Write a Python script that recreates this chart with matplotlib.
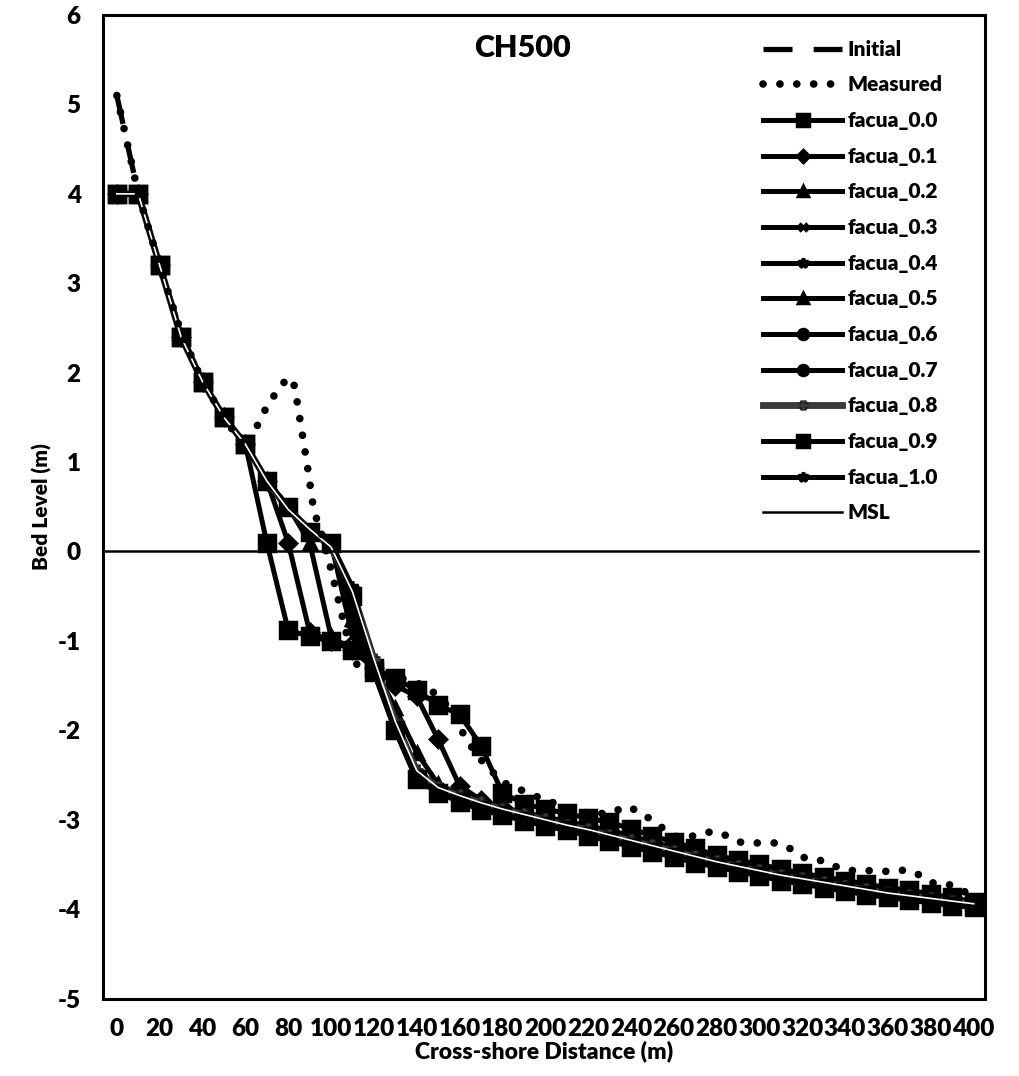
import matplotlib
matplotlib.use('Agg')
import matplotlib.pyplot as plt
import matplotlib.patheffects as pe

plt.rcParams['font.family'] = ['Lato', 'DejaVu Sans']
plt.rcParams['font.weight'] = 'heavy'
plt.rcParams['axes.unicode_minus'] = False

# Cross-shore distance (m), every 10 m
dist = [0, 10, 20, 30, 40, 50, 60, 70, 80, 90, 100, 110, 120, 130, 140, 150, 160, 170, 180, 190,
        200, 210, 220, 230, 240, 250, 260, 270, 280, 290, 300, 310, 320, 330, 340, 350, 360, 370, 380, 390, 400]

initial = [5.10, 4.00, 3.20, 2.45, 1.90, 1.50, 1.20, 0.80, 0.47, 0.25, 0.05, -0.55, -1.25, -1.95, -2.50, -2.66, -2.75, -2.83, -2.90, -2.96,
           -3.02, -3.08, -3.13, -3.19, -3.25, -3.31, -3.37, -3.43, -3.48, -3.53, -3.58, -3.63, -3.67, -3.71, -3.75, -3.79, -3.83, -3.86, -3.89, -3.92, -3.95]

meas_x = [0, 10, 20, 30, 40, 50, 60, 65, 70, 75, 80, 83, 86, 89, 92, 95, 100, 105, 110, 115, 125, 137, 145, 152, 158, 163, 170, 180,
          190, 200, 210, 220, 230, 238, 245, 252, 262, 270, 278, 285, 292, 300, 308, 315, 322, 330, 338, 347, 355, 362, 368, 375, 382, 390, 397, 402]
meas_y = [5.10, 4.00, 3.20, 2.45, 1.90, 1.50, 1.15, 1.38, 1.62, 1.80, 1.95, 1.85, 1.40, 0.95, 0.45, 0.25, -0.20, -0.70, -1.20, -1.35, -1.38, -1.44, -1.52, -1.66, -1.85, -2.10, -2.33, -2.58,
          -2.68, -2.78, -2.86, -2.93, -2.93, -2.85, -2.92, -3.05, -3.20, -3.18, -3.13, -3.18, -3.26, -3.26, -3.26, -3.33, -3.44, -3.46, -3.55, -3.58, -3.56, -3.59, -3.56, -3.62, -3.72, -3.73, -3.82, -3.88]

facua_0_0 = [4.00, 4.00, 3.20, 2.40, 1.90, 1.50, 1.20, 0.10, -0.88, -0.95, -1.00, -1.10, -1.30, -1.42, -1.55, -1.72, -1.82, -2.17, -2.70, -2.82,
             -2.88, -2.93, -2.98, -3.03, -3.10, -3.18, -3.25, -3.32, -3.40, -3.45, -3.50, -3.55, -3.60, -3.64, -3.68, -3.72, -3.76, -3.79, -3.83, -3.87, -3.92]
facua_0_1 = [4.00, 4.00, 3.20, 2.40, 1.90, 1.50, 1.20, 0.79, 0.10, -0.90, -1.00, -1.10, -1.30, -1.50, -1.62, -2.10, -2.62, -2.78, -2.86, -2.92,
             -2.97, -3.02, -3.07, -3.12, -3.18, -3.25, -3.31, -3.37, -3.44, -3.49, -3.54, -3.59, -3.63, -3.68, -3.72, -3.76, -3.80, -3.83, -3.87, -3.90, -3.94]
facua_0_2 = [4.00, 4.00, 3.20, 2.40, 1.90, 1.50, 1.20, 0.79, 0.50, 0.10, -0.95, -1.10, -1.30, -1.75, -2.25, -2.60, -2.72, -2.82, -2.90, -2.96,
             -3.02, -3.07, -3.12, -3.18, -3.24, -3.30, -3.36, -3.42, -3.48, -3.53, -3.58, -3.63, -3.67, -3.71, -3.75, -3.79, -3.83, -3.86, -3.89, -3.93, -3.96]
facua_0_3 = [4.00, 4.00, 3.20, 2.40, 1.90, 1.50, 1.20, 0.79, 0.50, 0.22, 0.10, -0.95, -1.30, -1.95, -2.50, -2.66, -2.76, -2.85, -2.92, -2.98,
             -3.04, -3.09, -3.15, -3.21, -3.27, -3.33, -3.39, -3.45, -3.50, -3.55, -3.60, -3.65, -3.69, -3.73, -3.77, -3.81, -3.84, -3.87, -3.90, -3.93, -3.96]
facua_0_4 = [4.00, 4.00, 3.20, 2.40, 1.90, 1.50, 1.20, 0.79, 0.50, 0.22, 0.10, -0.85, -1.30, -1.95, -2.50, -2.67, -2.77, -2.86, -2.93, -2.99,
             -3.05, -3.10, -3.16, -3.22, -3.28, -3.34, -3.40, -3.46, -3.51, -3.56, -3.61, -3.66, -3.70, -3.74, -3.78, -3.82, -3.85, -3.88, -3.91, -3.94, -3.97]
facua_0_5 = [4.00, 4.00, 3.20, 2.40, 1.90, 1.50, 1.20, 0.79, 0.50, 0.22, 0.10, -0.75, -1.32, -1.97, -2.52, -2.68, -2.78, -2.86, -2.93, -2.99,
             -3.05, -3.10, -3.16, -3.22, -3.28, -3.34, -3.40, -3.46, -3.51, -3.56, -3.61, -3.66, -3.70, -3.74, -3.78, -3.82, -3.85, -3.88, -3.91, -3.94, -3.97]
facua_0_6 = [4.00, 4.00, 3.20, 2.40, 1.90, 1.50, 1.20, 0.79, 0.50, 0.22, 0.10, -0.65, -1.33, -1.98, -2.53, -2.68, -2.78, -2.86, -2.93, -2.99,
             -3.05, -3.10, -3.16, -3.22, -3.28, -3.34, -3.40, -3.46, -3.51, -3.56, -3.61, -3.66, -3.70, -3.74, -3.78, -3.82, -3.85, -3.88, -3.91, -3.94, -3.97]
facua_0_7 = [4.00, 4.00, 3.20, 2.40, 1.90, 1.50, 1.20, 0.79, 0.50, 0.22, 0.10, -0.58, -1.34, -1.99, -2.54, -2.68, -2.78, -2.86, -2.93, -2.99,
             -3.05, -3.10, -3.16, -3.22, -3.28, -3.34, -3.40, -3.46, -3.51, -3.56, -3.61, -3.66, -3.70, -3.74, -3.78, -3.82, -3.85, -3.88, -3.91, -3.94, -3.97]
facua_0_8 = [4.00, 4.00, 3.20, 2.40, 1.90, 1.50, 1.20, 0.79, 0.47, 0.25, 0.05, -0.45, -1.20, -1.90, -2.45, -2.64, -2.73, -2.81, -2.88, -2.94,
             -3.00, -3.06, -3.11, -3.17, -3.23, -3.29, -3.35, -3.41, -3.47, -3.52, -3.57, -3.62, -3.66, -3.70, -3.74, -3.78, -3.82, -3.85, -3.88, -3.91, -3.94]
facua_0_9 = [4.00, 4.00, 3.20, 2.40, 1.90, 1.50, 1.20, 0.79, 0.50, 0.22, 0.10, -0.50, -1.35, -2.00, -2.55, -2.70, -2.80, -2.89, -2.95, -3.01,
             -3.07, -3.12, -3.18, -3.24, -3.30, -3.36, -3.42, -3.48, -3.53, -3.58, -3.63, -3.68, -3.72, -3.76, -3.80, -3.84, -3.87, -3.90, -3.93, -3.96, -3.98]
facua_1_0 = [4.00, 4.00, 3.20, 2.40, 1.90, 1.50, 1.20, 0.79, 0.50, 0.22, 0.10, -0.40, -1.35, -2.00, -2.55, -2.69, -2.79, -2.88, -2.94, -3.00,
             -3.06, -3.11, -3.17, -3.23, -3.29, -3.35, -3.41, -3.47, -3.52, -3.57, -3.62, -3.67, -3.71, -3.75, -3.79, -3.83, -3.86, -3.89, -3.92, -3.95, -3.98]

msl_x = [-6.5, 402]
msl_y = [0, 0]

facua_labels = ['facua_0.0', 'facua_0.1', 'facua_0.2', 'facua_0.3', 'facua_0.4', 'facua_0.5',
                'facua_0.6', 'facua_0.7', 'facua_0.8', 'facua_0.9', 'facua_1.0']
facua_series = [facua_0_0, facua_0_1, facua_0_2, facua_0_3, facua_0_4, facua_0_5,
                facua_0_6, facua_0_7, facua_0_8, facua_0_9, facua_1_0]
facua_markers = ['s', 'D', '^', 'x', '*', '^', 'o', 'o', '+', 's', '*']
facua_msize = [11, 8, 9, 8, 9, 9, 9, 9, 9, 11, 9]

fig = plt.figure(figsize=(10.19, 10.76), dpi=100)
ax = fig.add_axes([0.101, 0.072, 0.866, 0.914])

ax.plot(dist, initial, color='black', lw=3.8, linestyle=(0, (5.5, 4)), label='Initial', zorder=2)
ax.plot(meas_x, meas_y, color='black', lw=5.5, linestyle=(0, (0.01, 2.2)),
        dash_capstyle='round', label='Measured', zorder=4)

for lab, ys, mk, ms in zip(facua_labels, facua_series, facua_markers, facua_msize):
    if lab == 'facua_0.8':
        ax.plot(dist, ys, color='#3a3a3a', lw=3.8, marker=mk, markersize=ms, mew=2,
                label=lab, zorder=3,
                path_effects=[pe.Stroke(linewidth=4.8, foreground='#222222'),
                              pe.Normal()])
        # thin light centre line seen on the scan
        ax.plot(dist, ys, color='white', lw=1.2, zorder=3.5)
    else:
        ax.plot(dist, ys, color='black', lw=3.6, marker=mk, markersize=ms, mew=2.5,
                label=lab, zorder=3)

ax.plot(msl_x, msl_y, color='black', lw=1.8, label='MSL', zorder=5)

ax.set_xlim(-6.5, 405.5)
ax.set_ylim(-5, 6)
ax.set_xticks(range(0, 401, 20))
ax.set_yticks(range(-5, 7))
ax.tick_params(axis='both', length=0, labelsize=17.5)
ax.tick_params(axis='y', pad=16)
ax.tick_params(axis='x', pad=14)
for lbl in ax.get_xticklabels() + ax.get_yticklabels():
    lbl.set_fontweight('heavy')
for sp in ax.spines.values():
    sp.set_linewidth(2.2)

ax.set_xlabel('Cross-shore Distance (m)', fontsize=16.5, fontweight='heavy', labelpad=0)
ax.set_ylabel('Bed Level (m)', fontsize=15, fontweight='heavy', labelpad=4)
ax.text(0.475, 0.967, 'CH500', transform=ax.transAxes, ha='center', va='center',
        fontsize=22, fontweight='heavy')

leg = ax.legend(loc='upper left', bbox_to_anchor=(0.749, 0.963), bbox_transform=fig.transFigure,
                frameon=False, fontsize=15, handlelength=3.8, handletextpad=0.25,
                labelspacing=0.80, borderpad=0, borderaxespad=0, markerscale=0.8)
for t in leg.get_texts():
    t.set_fontweight('heavy')

fig.savefig('out.png', dpi=100)
